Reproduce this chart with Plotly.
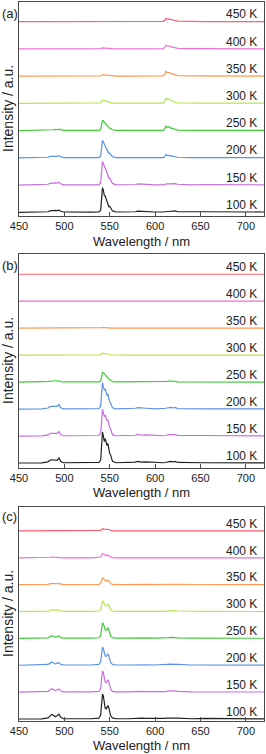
import plotly.graph_objects as go

# ---------------- data ----------------
temps = ["100 K", "150 K", "200 K", "250 K", "300 K", "350 K", "400 K", "450 K"]
colors = ["#222222", "#c86fe0", "#5b93e6", "#3fcc3a", "#b5e84e", "#ff9a50", "#ee6fd6", "#ff5f70"]
panel_labels = ["(a)", "(b)", "(c)"]
x_ticks = [450, 500, 550, 600, 650, 700]

wavelength = [450, 475, 482, 484, 486, 488, 490, 492, 494, 496, 499,
              530, 538, 540, 541, 542, 543, 544, 545, 546, 547, 548, 549, 550, 551, 553, 557,
              570, 578, 581, 585, 590, 600,
              609, 611, 612, 613, 615, 617, 620, 622, 625, 640, 655, 720]

# panel (a)
a100 = [0, 0.005, 0.02, 0.05, 0.06, 0.06, 0.07, 0.06, 0.08, 0.04, 0.01,
        0.005, 0.01, 0.08, 0.6, 0.9, 0.8, 0.62, 0.6, 0.5, 0.42, 0.25, 0.2, 0.22, 0.15, 0.05, 0.01,
        0.01, 0.02, 0.04, 0.03, 0.03, 0.01,
        0.01, 0.03, 0.04, 0.03, 0.03, 0.04, 0.03, 0.05, 0.02, 0.01, 0.02, 0.01]
a150 = [0, 0.005, 0.03, 0.06, 0.07, 0.07, 0.08, 0.07, 0.10, 0.05, 0.01,
        0.005, 0.01, 0.08, 0.55, 0.88, 0.78, 0.66, 0.62, 0.55, 0.45, 0.3, 0.25, 0.26, 0.18, 0.06, 0.01,
        0.01, 0.02, 0.04, 0.03, 0.03, 0.01,
        0.01, 0.03, 0.05, 0.04, 0.04, 0.05, 0.04, 0.05, 0.03, 0.01, 0.02, 0.01]
a200 = [0, 0.005, 0.02, 0.05, 0.05, 0.05, 0.06, 0.05, 0.08, 0.04, 0.01,
        0.005, 0.01, 0.06, 0.4, 0.63, 0.58, 0.48, 0.42, 0.36, 0.3, 0.2, 0.16, 0.17, 0.12, 0.04, 0.01,
        0.01, 0.01, 0.03, 0.02, 0.02, 0.01,
        0.01, 0.06, 0.12, 0.1, 0.08, 0.07, 0.05, 0.04, 0.02, 0.01, 0.01, 0.01]
a250 = [0, 0.005, 0.01, 0.03, 0.03, 0.03, 0.04, 0.03, 0.05, 0.02, 0.005,
        0.005, 0.01, 0.04, 0.25, 0.37, 0.35, 0.3, 0.26, 0.22, 0.18, 0.13, 0.1, 0.09, 0.07, 0.03, 0.01,
        0.01, 0.01, 0.02, 0.015, 0.015, 0.01,
        0.01, 0.08, 0.18, 0.12, 0.14, 0.1, 0.06, 0.04, 0.02, 0.01, 0.01, 0.01]
a300 = [0, 0.005, 0.005, 0.01, 0.01, 0.01, 0.015, 0.01, 0.02, 0.01, 0.005,
        0.005, 0.005, 0.02, 0.08, 0.12, 0.11, 0.1, 0.09, 0.08, 0.07, 0.05, 0.04, 0.04, 0.03, 0.01, 0.005,
        0.005, 0.005, 0.01, 0.01, 0.01, 0.005,
        0.01, 0.1, 0.2, 0.15, 0.16, 0.12, 0.07, 0.04, 0.02, 0.01, 0.01, 0.005]
a350 = [0, 0, 0, 0.005, 0.005, 0.005, 0.01, 0.005, 0.01, 0.005, 0,
        0, 0.005, 0.01, 0.03, 0.05, 0.05, 0.045, 0.04, 0.035, 0.03, 0.02, 0.015, 0.015, 0.01, 0.005, 0,
        0, 0.005, 0.005, 0.005, 0.005, 0,
        0.01, 0.09, 0.18, 0.14, 0.14, 0.1, 0.06, 0.04, 0.02, 0.01, 0.005, 0]
a400 = [0, 0, 0, 0, 0.005, 0.005, 0.005, 0.005, 0.005, 0, 0,
        0, 0, 0.01, 0.03, 0.04, 0.04, 0.035, 0.03, 0.03, 0.025, 0.02, 0.015, 0.01, 0.01, 0.005, 0,
        0, 0, 0.005, 0.005, 0, 0,
        0.01, 0.07, 0.13, 0.11, 0.11, 0.08, 0.05, 0.03, 0.02, 0.01, 0.005, 0]
a450 = [0, 0, 0, 0, 0, 0, 0, 0, 0, 0, 0,
        0, 0, 0, 0.005, 0.01, 0.01, 0.01, 0.01, 0.01, 0.005, 0.005, 0, 0, 0, 0, 0,
        0, 0, 0, 0, 0, 0,
        0.01, 0.06, 0.12, 0.1, 0.1, 0.08, 0.06, 0.04, 0.02, 0.01, 0, 0]

# panel (b)
b100 = [0, 0.005, 0.04, 0.1, 0.12, 0.12, 0.1, 0.1, 0.18, 0.06, 0.01,
        0.01, 0.02, 0.1, 0.7, 1.15, 1.0, 0.8, 0.9, 0.75, 0.65, 0.72, 0.45, 0.35, 0.3, 0.06, 0.01,
        0.01, 0.03, 0.06, 0.03, 0.04, 0.01,
        0.01, 0.02, 0.03, 0.04, 0.05, 0.06, 0.04, 0.06, 0.02, 0.01, 0.01, 0.005]
b150 = [0, 0.005, 0.04, 0.09, 0.1, 0.1, 0.09, 0.1, 0.17, 0.05, 0.01,
        0.01, 0.02, 0.1, 0.65, 1.0, 0.85, 0.72, 0.78, 0.66, 0.56, 0.6, 0.4, 0.3, 0.26, 0.05, 0.01,
        0.01, 0.03, 0.06, 0.03, 0.04, 0.01,
        0.01, 0.02, 0.03, 0.04, 0.05, 0.06, 0.04, 0.06, 0.02, 0.01, 0.02, 0.005]
b200 = [0, 0.005, 0.04, 0.09, 0.1, 0.1, 0.09, 0.1, 0.17, 0.05, 0.01,
        0.01, 0.02, 0.1, 0.62, 0.98, 0.82, 0.7, 0.75, 0.62, 0.52, 0.55, 0.36, 0.28, 0.22, 0.05, 0.01,
        0.01, 0.03, 0.05, 0.03, 0.03, 0.01,
        0.01, 0.02, 0.03, 0.04, 0.05, 0.06, 0.04, 0.06, 0.02, 0.01, 0.01, 0.005]
b250 = [0, 0.005, 0.01, 0.03, 0.04, 0.04, 0.03, 0.04, 0.05, 0.02, 0.005,
        0.005, 0.01, 0.04, 0.25, 0.38, 0.34, 0.3, 0.28, 0.24, 0.2, 0.17, 0.12, 0.09, 0.07, 0.02, 0.005,
        0.005, 0.01, 0.03, 0.015, 0.01, 0.005,
        0.005, 0.01, 0.02, 0.03, 0.04, 0.04, 0.03, 0.03, 0.01, 0.005, 0.005, 0]
b300 = [0, 0, 0, 0.005, 0.01, 0.01, 0.005, 0.01, 0.01, 0.005, 0,
        0, 0.005, 0.01, 0.05, 0.08, 0.07, 0.06, 0.055, 0.05, 0.04, 0.035, 0.025, 0.02, 0.015, 0.005, 0,
        0, 0, 0.005, 0.005, 0, 0,
        0, 0.01, 0.015, 0.02, 0.02, 0.02, 0.015, 0.015, 0.005, 0, 0, 0]
b350 = [0, 0, 0, 0, 0.005, 0.005, 0, 0.005, 0.005, 0, 0,
        0, 0, 0.005, 0.02, 0.03, 0.03, 0.025, 0.02, 0.02, 0.015, 0.01, 0.01, 0.005, 0.005, 0, 0,
        0, 0, 0, 0, 0, 0,
        0, 0.005, 0.01, 0.015, 0.02, 0.02, 0.015, 0.01, 0.005, 0, 0, 0]
b400 = [0, 0, 0, 0, 0, 0, 0, 0, 0, 0, 0,
        0, 0, 0.005, 0.015, 0.025, 0.025, 0.02, 0.02, 0.015, 0.01, 0.01, 0.005, 0.005, 0, 0, 0,
        0, 0, 0, 0, 0, 0,
        0, 0.005, 0.01, 0.015, 0.02, 0.02, 0.015, 0.01, 0.005, 0, 0, 0]
b450 = [0, 0, 0, 0, 0, 0, 0, 0, 0, 0, 0,
        0, 0, 0, 0.01, 0.015, 0.015, 0.01, 0.01, 0.01, 0.005, 0.005, 0, 0, 0, 0, 0,
        0, 0, 0, 0, 0, 0,
        0, 0.005, 0.01, 0.015, 0.02, 0.02, 0.015, 0.01, 0.005, 0, 0, 0]

# panel (c)
c100 = [0, 0.005, 0.04, 0.1, 0.17, 0.14, 0.08, 0.12, 0.18, 0.06, 0.01,
        0.01, 0.03, 0.15, 0.6, 0.93, 0.85, 0.55, 0.4, 0.38, 0.45, 0.5, 0.42, 0.25, 0.12, 0.04, 0.01,
        0.01, 0.03, 0.04, 0.03, 0.02, 0.01,
        0.01, 0.02, 0.03, 0.03, 0.03, 0.04, 0.04, 0.04, 0.03, 0.01, 0.02, 0.005]
c150 = [0, 0.005, 0.03, 0.08, 0.13, 0.1, 0.06, 0.09, 0.12, 0.04, 0.01,
        0.01, 0.03, 0.13, 0.52, 0.79, 0.72, 0.5, 0.37, 0.35, 0.41, 0.46, 0.38, 0.22, 0.11, 0.03, 0.01,
        0.01, 0.02, 0.04, 0.03, 0.02, 0.01,
        0.01, 0.02, 0.03, 0.04, 0.04, 0.05, 0.05, 0.05, 0.03, 0.01, 0.01, 0.005]
c200 = [0, 0.005, 0.03, 0.07, 0.12, 0.09, 0.05, 0.08, 0.1, 0.03, 0.01,
        0.01, 0.03, 0.12, 0.46, 0.68, 0.62, 0.45, 0.34, 0.33, 0.38, 0.43, 0.35, 0.2, 0.1, 0.03, 0.01,
        0.01, 0.02, 0.03, 0.03, 0.02, 0.01,
        0.01, 0.02, 0.03, 0.03, 0.04, 0.04, 0.04, 0.04, 0.03, 0.01, 0.01, 0.005]
c250 = [0, 0.005, 0.02, 0.06, 0.1, 0.08, 0.05, 0.07, 0.09, 0.03, 0.01,
        0.01, 0.025, 0.1, 0.4, 0.58, 0.54, 0.4, 0.31, 0.3, 0.35, 0.39, 0.32, 0.18, 0.09, 0.03, 0.01,
        0.01, 0.02, 0.03, 0.02, 0.02, 0.01,
        0.01, 0.02, 0.03, 0.03, 0.03, 0.04, 0.04, 0.03, 0.02, 0.01, 0.005, 0.005]
c300 = [0, 0.005, 0.015, 0.04, 0.07, 0.06, 0.04, 0.05, 0.06, 0.02, 0.005,
        0.005, 0.02, 0.07, 0.27, 0.39, 0.36, 0.28, 0.22, 0.21, 0.24, 0.27, 0.22, 0.13, 0.06, 0.02, 0.005,
        0.005, 0.01, 0.02, 0.02, 0.01, 0.005,
        0.005, 0.01, 0.02, 0.02, 0.02, 0.03, 0.03, 0.03, 0.02, 0.01, 0.005, 0]
c350 = [0, 0, 0.01, 0.03, 0.05, 0.04, 0.03, 0.04, 0.04, 0.015, 0,
        0.005, 0.01, 0.05, 0.17, 0.25, 0.23, 0.18, 0.14, 0.13, 0.15, 0.16, 0.13, 0.08, 0.04, 0.01, 0,
        0, 0.01, 0.015, 0.01, 0.01, 0,
        0.005, 0.01, 0.015, 0.02, 0.02, 0.025, 0.025, 0.02, 0.015, 0.005, 0, 0]
c400 = [0, 0, 0.005, 0.02, 0.03, 0.025, 0.02, 0.025, 0.025, 0.01, 0,
        0, 0.01, 0.03, 0.1, 0.15, 0.14, 0.11, 0.09, 0.085, 0.095, 0.1, 0.08, 0.05, 0.025, 0.005, 0,
        0, 0.005, 0.01, 0.01, 0.005, 0,
        0.005, 0.01, 0.015, 0.02, 0.02, 0.02, 0.02, 0.015, 0.01, 0.005, 0, 0]
c450 = [0, 0, 0, 0.01, 0.015, 0.015, 0.01, 0.01, 0.01, 0.005, 0,
        0, 0.005, 0.02, 0.06, 0.08, 0.075, 0.065, 0.055, 0.05, 0.055, 0.06, 0.05, 0.03, 0.015, 0, 0,
        0, 0, 0.005, 0.005, 0, 0,
        0, 0.005, 0.01, 0.015, 0.015, 0.015, 0.015, 0.01, 0.005, 0, 0, 0]

panels = [
    [a100, a150, a200, a250, a300, a350, a400, a450],
    [b100, b150, b200, b250, b300, b350, b400, b450],
    [c100, c150, c200, c250, c300, c350, c400, c450],
]

# ---------------- layout constants (pixels) ----------------
W, H = 266, 754
PLOT_L, PLOT_R = 19, 264
panel_px = [(2, 216), (254, 468), (507, 721)]          # top, bottom of each frame
y_ranges = [(-0.136, 7.72), (-0.185, 7.75), (-0.074, 7.89)]
xtitle_px = [241, 492, 745]
plabel_px = [13, 265, 516]

FONT = "Liberation Sans, Arial, sans-serif"
AXC = "#4a4a4a"

def py(p):
    return 1 - p / H

fig = go.Figure()
for k, spectra in enumerate(panels):
    xa = "x" if k == 0 else f"x{k+1}"
    ya = "y" if k == 0 else f"y{k+1}"
    for i, (name, col, vals) in enumerate(zip(temps, colors, spectra)):
        fig.add_trace(go.Scatter(
            x=wavelength, y=[v + i for v in vals], mode="lines",
            line=dict(color=col, width=1.2), name=name, showlegend=False,
            xaxis=xa, yaxis=ya, hoverinfo="skip"))
        fig.add_annotation(x=714, y=i + 0.27, xref=xa, yref=ya, text=name,
                           showarrow=False, xanchor="right", yanchor="middle",
                           font=dict(size=12, color="#222", family=FONT))

    top, bot = panel_px[k]
    xkey = "xaxis" if k == 0 else f"xaxis{k+1}"
    ykey = "yaxis" if k == 0 else f"yaxis{k+1}"
    fig.update_layout({
        xkey: dict(domain=[PLOT_L / W, PLOT_R / W], range=[450, 720], anchor=ya,
                   tickvals=x_ticks, ticks="inside", ticklen=4, tickcolor=AXC,
                   showline=True, linecolor=AXC, linewidth=1, mirror=True,
                   showgrid=False, zeroline=False, automargin=False,
                   ticklabelstandoff=0,
                   tickfont=dict(size=11, color="#222", family=FONT)),
        ykey: dict(domain=[py(bot), py(top)], range=list(y_ranges[k]), anchor=xa,
                   showticklabels=False, ticks="", showline=True, linecolor=AXC,
                   linewidth=1, mirror=True, showgrid=False, zeroline=False, automargin=False),
    })
    fig.add_annotation(x=(PLOT_L + PLOT_R) / 2 / W, y=py(xtitle_px[k]), xref="paper", yref="paper",
                       text="Wavelength / nm", showarrow=False, xanchor="center", yanchor="middle",
                       font=dict(size=13, color="#222", family=FONT))
    fig.add_annotation(x=8 / W, y=py((top + bot) / 2), xref="paper", yref="paper",
                       text="Intensity / a.u.", showarrow=False, textangle=-90,
                       xanchor="center", yanchor="middle",
                       font=dict(size=14, color="#222", family=FONT))
    fig.add_annotation(x=0, y=py(plabel_px[k]), xref="paper", yref="paper",
                       text=panel_labels[k], showarrow=False, xanchor="left", yanchor="middle",
                       font=dict(size=13, color="#222", family=FONT))

fig.update_layout(width=W, height=H,
                  margin=dict(l=0, r=0, t=0, b=0, pad=0, autoexpand=False),
                  paper_bgcolor="white", plot_bgcolor="white")

fig.write_html("out.html", config={"displayModeBar": False},
               post_script="document.body.style.margin='0';document.body.style.overflow='hidden';")
